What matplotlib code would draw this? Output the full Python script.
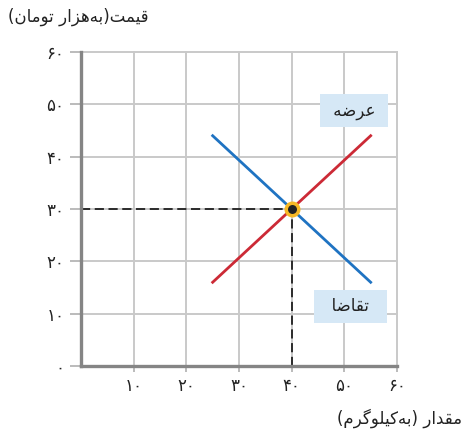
import matplotlib
matplotlib.use("Agg")
import matplotlib.pyplot as plt

# data
ticks = [0, 10, 20, 30, 40, 50, 60]
tick_labels = ["\u06f0", "\u06f1\u06f0", "\u06f2\u06f0", "\u06f3\u06f0",
               "\u06f4\u06f0", "\u06f5\u06f0", "\u06f6\u06f0"]
supply_q = [25, 55]
supply_p = [16, 44]
demand_q = [25, 55]
demand_p = [44, 16]
eq_q = 40
eq_p = 30

# persian text, already shaped (presentation forms) and in visual order
price_label = ("(" + "\ufee5\ufe8e\ufee3\ufeee\ufe97" + " " + "\ufead\ufe8d\ufeb0\ufeeb"
               + "\ufeea\ufe91" + ")" + "\ufe96\ufee4\ufef4\ufed7")
qty_label = ("(" + "\ufee1\ufeae\ufb94\ufeee\ufee0\ufef4\ufb90" + "\ufeea\ufe91" + ")"
             + " " + "\ufead\ufe8d\ufeaa\ufed8\ufee3")
supply_name = "\ufeea\ufebf\ufeae\ufecb"
demand_name = "\ufe8e\ufebf\ufe8e\ufed8\ufe97"

plt.rcParams["font.family"] = ["DejaVu Sans"]

fig = plt.figure(figsize=(4.64, 4.32), dpi=100)
ax = fig.add_axes([81 / 464, 66 / 432, 316 / 464, 314 / 432])

ax.set_xlim(0, 60)
ax.set_ylim(0, 60)
ax.set_xticks(ticks[1:])
ax.set_xticklabels(tick_labels[1:])
ax.set_yticks(ticks)
ax.set_yticklabels(tick_labels)

ax.grid(True, color="#c9c9c9", linewidth=1.4)
ax.set_axisbelow(True)
for gl in ax.get_xgridlines() + ax.get_ygridlines():
    gl.set_clip_on(False)

for s in ["top", "right"]:
    ax.spines[s].set_visible(False)
for s in ["left", "bottom"]:
    ax.spines[s].set_color("#858585")
    ax.spines[s].set_linewidth(2.4)

ax.tick_params(axis="y", length=8, width=1.3, color="#b5b5b5", pad=4,
               labelsize=12, labelcolor="#222222")
ax.tick_params(axis="x", length=4, width=1.3, color="#b5b5b5", pad=4,
               labelsize=12, labelcolor="#222222")

# guide lines to equilibrium
ax.plot([0, eq_q], [eq_p, eq_p], color="black", linewidth=1.1, dashes=(6, 3))
ax.plot([eq_q, eq_q], [0, eq_p], color="black", linewidth=1.1, dashes=(6, 3))

ax.plot(demand_q, demand_p, color="#1f73c2", linewidth=2)
ax.plot(supply_q, supply_p, color="#cc2a36", linewidth=2)

ax.plot(eq_q, eq_p, "o", markersize=9, markerfacecolor="#222222",
        markeredgecolor="#f7b825", markeredgewidth=2.5, zorder=5)

box = dict(boxstyle="square,pad=0.45", facecolor="#d6e8f6", edgecolor="none")
ax.text(51.9, 48.8, " " + supply_name + " ", ha="center", va="center",
        fontsize=12, color="#222222", bbox=box)
ax.text(51.2, 11.4, "  " + demand_name + "  ", ha="center", va="center",
        fontsize=12, color="#222222", bbox=box)

fig.text(8 / 464, 1 - 17 / 432, price_label, ha="left", va="center",
         fontsize=12, color="#222222")
fig.text(462 / 464, 1 - 418 / 432, qty_label, ha="right", va="center",
         fontsize=12, color="#222222")

fig.savefig("out.png", dpi=100)
